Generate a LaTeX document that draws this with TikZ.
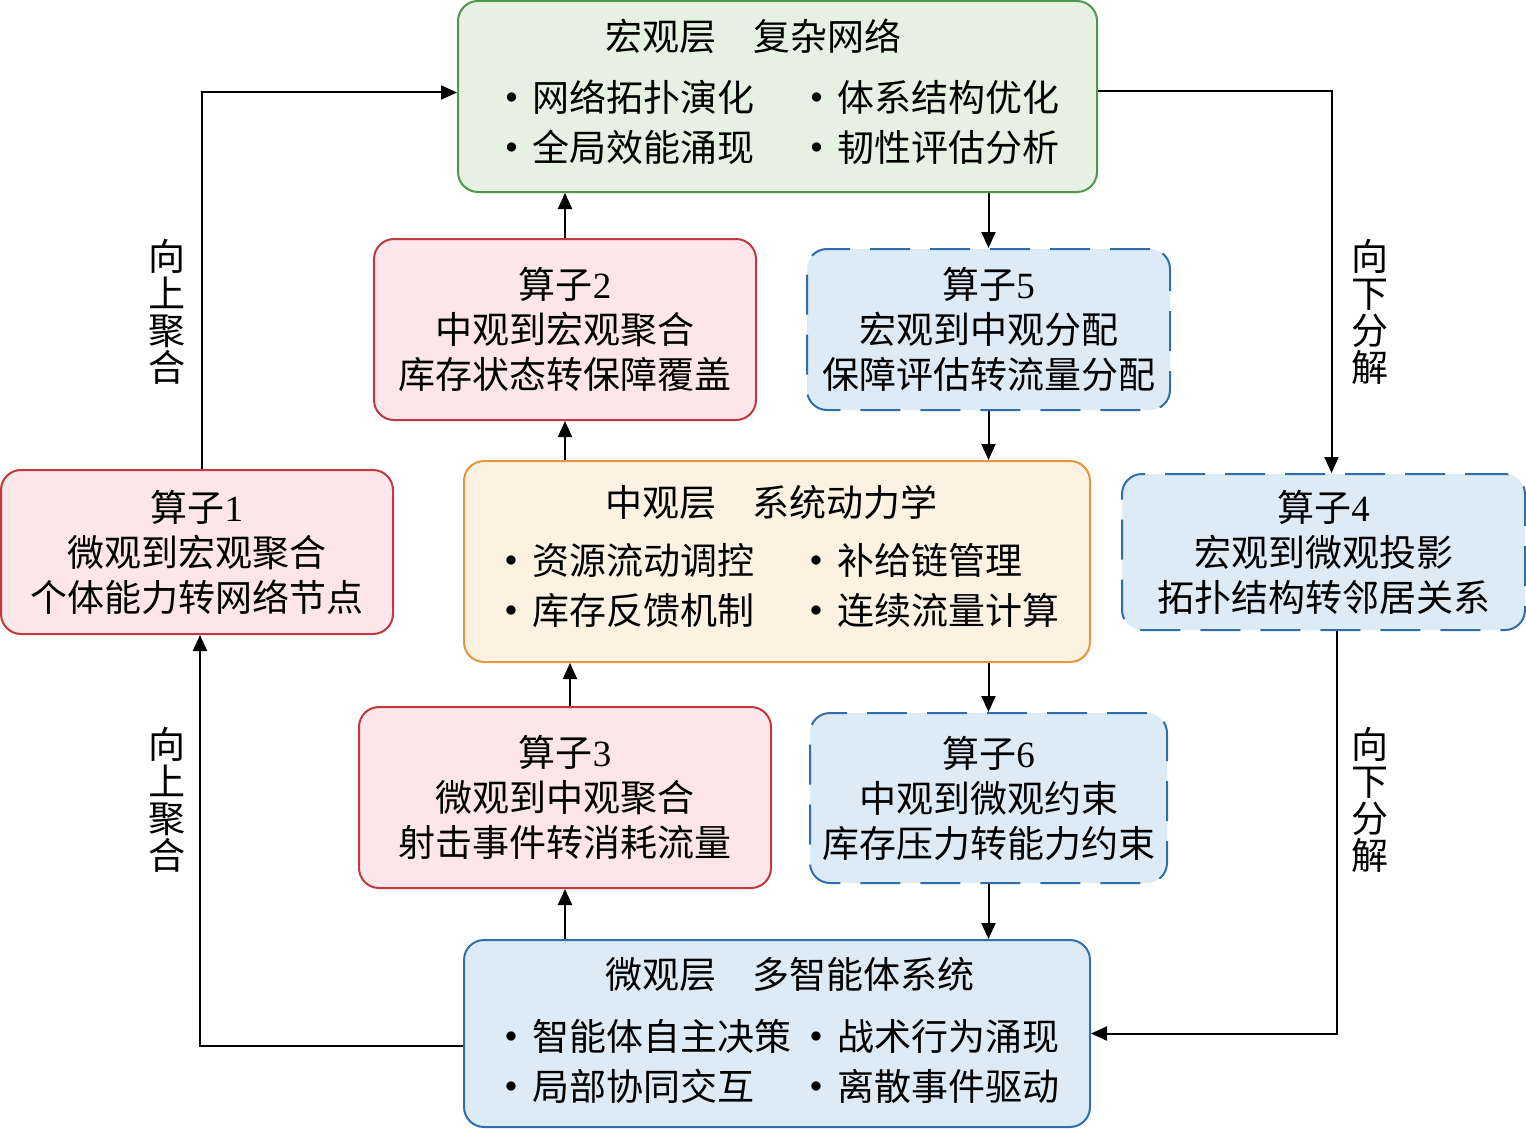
\documentclass[tikz,border=0pt]{standalone}
\usepackage{fontspec}
\setmainfont{Noto Sans CJK SC}
\newfontfamily\numfont{Liberation Serif}
\usetikzlibrary{arrows.meta}

\definecolor{macfill}{RGB}{230,241,228}
\definecolor{macdraw}{RGB}{74,154,74}
\definecolor{opfill}{RGB}{252,230,233}
\definecolor{opdraw}{RGB}{192,57,63}
\definecolor{mesfill}{RGB}{253,241,226}
\definecolor{mesdraw}{RGB}{232,150,60}
\definecolor{micfill}{RGB}{221,235,247}
\definecolor{micdraw}{RGB}{47,110,173}

\newcommand{\itm}[1]{\raisebox{4pt}{\fontsize{12}{12}\selectfont$\bullet$}\hspace{7.5pt}#1}
\newcommand{\lcol}[1]{\hspace*{5pt}\makebox[152.5pt][l]{\itm{#1}}}
\newcommand{\rcol}[1]{\makebox[124.5pt][l]{\itm{#1}}}
\newcommand{\ltitle}[2]{\hspace*{55pt}#1\hspace{1em}#2}
\newcommand{\opname}[1]{算子{\numfont #1}}

\begin{document}
\begin{tikzpicture}[x=0.5pt,y=-0.5pt,->,>={Triangle[length=8pt,width=7pt]},line width=1pt,
  layer/.style={rounded corners=10pt,line width=1pt,align=left,font=\fontsize{18.5}{25}\selectfont},
  op/.style={rounded corners=10pt,line width=1pt,align=center,font=\fontsize{18.5}{22.5}\selectfont},
  up/.style={op,fill=opfill,draw=opdraw},
  down/.style={op,fill=micfill,draw=micdraw,dash pattern=on 20pt off 10pt},
  side/.style={align=center,font=\fontsize{18.5}{18.5}\selectfont}]

  \path[use as bounding box] (0,0) rectangle (1526,1129);

  % three layers
  \node[layer,fill=macfill,draw=macdraw,minimum width=319.5pt,minimum height=95.5pt] (macro) at (777.5,96.5)
    {\ltitle{宏观层}{复杂网络}\\[5.5pt]
     \lcol{网络拓扑演化}\rcol{体系结构优化}\\
     \lcol{全局效能涌现}\rcol{韧性评估分析}\rule[-6pt]{0pt}{1pt}};
  \node[layer,fill=mesfill,draw=mesdraw,minimum width=313pt,minimum height=100.5pt] (meso) at (777,561.5)
    {\ltitle{中观层}{系统动力学}\\[4pt]
     \lcol{资源流动调控}\rcol{补给链管理}\\
     \lcol{库存反馈机制}\rcol{连续流量计算}\rule[-7pt]{0pt}{1pt}};
  \node[layer,fill=micfill,draw=micdraw,minimum width=313pt,minimum height=93.5pt] (micro) at (777,1033.5)
    {\ltitle{微观层}{多智能体系统}\\[6pt]
     \lcol{智能体自主决策}\rcol{战术行为涌现}\\
     \lcol{局部协同交互}\rcol{离散事件驱动}\rule[-5pt]{0pt}{1pt}};

  % operators
  \node[up,minimum width=196pt,minimum height=82pt]     (op1) at (197,552)    {\opname{1}\\微观到宏观聚合\\个体能力转网络节点};
  \node[up,minimum width=191pt,minimum height=90.5pt]   (op2) at (565,329.5)  {\opname{2}\\中观到宏观聚合\\库存状态转保障覆盖};
  \node[up,minimum width=206pt,minimum height=90.5pt]   (op3) at (565,797.5)  {\opname{3}\\微观到中观聚合\\射击事件转消耗流量};
  \node[down,minimum width=201.5pt,minimum height=78pt] (op4) at (1323.5,552) {\opname{4}\\宏观到微观投影\\拓扑结构转邻居关系};
  \node[down,minimum width=181.5pt,minimum height=80.5pt] (op5) at (988.5,329.5) {\opname{5}\\宏观到中观分配\\保障评估转流量分配};
  \node[down,minimum width=178.5pt,minimum height=85pt] (op6) at (988.5,798)  {\opname{6}\\中观到微观约束\\库存压力转能力约束};

  % side labels
  \node[side] (upA)   at (167,312)  {向\\上\\聚\\合};
  \node[side] (upB)   at (167,800)  {向\\上\\聚\\合};
  \node[side] (downA) at (1370,312) {向\\下\\分\\解};
  \node[side] (downB) at (1370,800) {向\\下\\分\\解};

  % connectors
  \draw ([xshift=2.5pt]op1.north) |- ([yshift=2pt]macro.west);
  \draw ([yshift=-6pt]micro.west) -| ([xshift=1.5pt]op1.south);
  \draw ([yshift=2.5pt]macro.east) -| ([xshift=4pt]op4.north);
  \draw ([xshift=6.5pt]op4.south) |- (micro.east);
  \draw (op2) -- (op2 |- macro.south);
  \draw (meso.north -| op2) -- (op2.south);
  \draw (macro.south -| op5) -- (op5.north);
  \draw (op5.south) -- (op5 |- meso.north);
  \draw ([xshift=2.5pt]op3.north) -- ([xshift=2.5pt]op3.north |- meso.south);
  \draw (micro.north -| op3) -- (op3.south);
  \draw (meso.south -| op6) -- (op6.north);
  \draw (op6.south) -- (op6 |- micro.north);
\end{tikzpicture}
\end{document}
